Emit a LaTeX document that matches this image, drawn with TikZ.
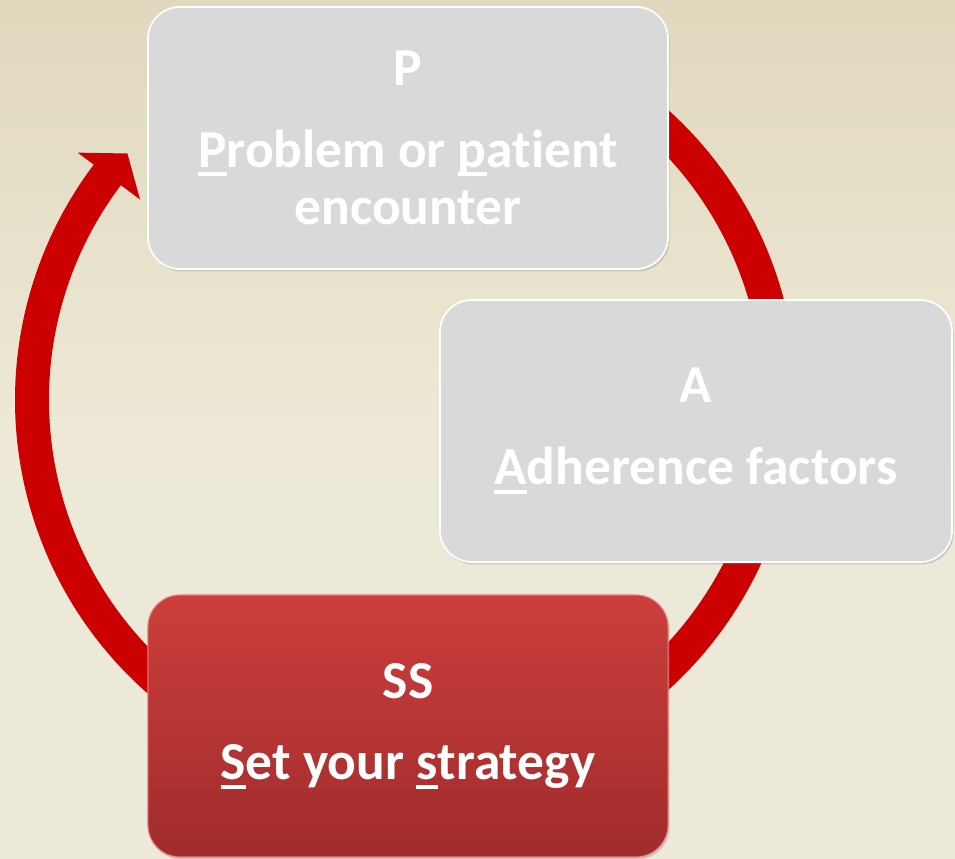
\documentclass[tikz,border=0pt]{standalone}
\usepackage{fontspec}
\setmainfont[Ligatures=NoCommon]{Carlito}
\usepackage{xcolor}
\usepackage{tikz}
\usetikzlibrary{arrows,shadows}
\definecolor{bgtop}{RGB}{225, 216, 190}
\definecolor{bgmid}{RGB}{237, 233, 214}
\definecolor{bgbot}{RGB}{237, 234, 219}
\definecolor{lgrey}{RGB}{217, 217, 217}
\definecolor{lred}{RGB}{204, 62, 60}
\definecolor{dred}{RGB}{160, 44, 44}
\definecolor{pred}{RGB}{236, 130, 130}
\definecolor{ringred}{RGB}{204, 0, 0}
\def\ringIn{357}
\def\ringOut{391}
\newcommand{\ulet}[1]{\setbox0\hbox{#1}\rlap{\rule[-0.17em]{\wd0}{0.075em}}\box0}
\tikzset{>=latex}
\tikzset{
  stagebox/.style={rounded corners=0.8cm, minimum width=13cm, minimum height=6.55cm,
    align=center, text=white, font=\fontsize{38}{41}\selectfont\bfseries,
    drop shadow={opacity=0.3, shadow xshift=0.04cm, shadow yshift=-0.06cm}},
  greybox/.style={stagebox, fill=lgrey, draw=white, very thick},
  redbox/.style={stagebox, top color=lred, bottom color=dred, draw=pred, thick}
}

\begin{document}
\begin{tikzpicture}[x=0.025cm, y=0.025cm]
  \shade[top color=bgtop, bottom color=bgbot, middle color=bgmid] (0, 0) rectangle (955, 859);
  \useasboundingbox (0, 0) rectangle (955, 859);
  \coordinate (hub) at (406, 459);
  \fill[ringred] ([shift={(100:\ringOut)}]hub) arc[start angle=100, end angle=-217, radius=\ringOut]
    -- ([shift={(-217:411)}]hub) -- ([shift={(-221.5:372)}]hub) -- ([shift={(-217:333)}]hub)
    -- ([shift={(-217:\ringIn)}]hub) arc[start angle=-217, end angle=100, radius=\ringIn] -- cycle;
  \node[greybox] (p) at (408, 721){P\\[17pt]\ulet{P}roblem or \ulet{p}atient\\encounter};
  \node[greybox, minimum width=12.8cm] (a) at (696, 428){A\\[17pt]\ulet{A}dherence factors};
  \node[redbox] (ss) at (408, 133){SS\\[17pt]\ulet{S}et your \ulet{s}trategy};
\end{tikzpicture}
\end{document}
